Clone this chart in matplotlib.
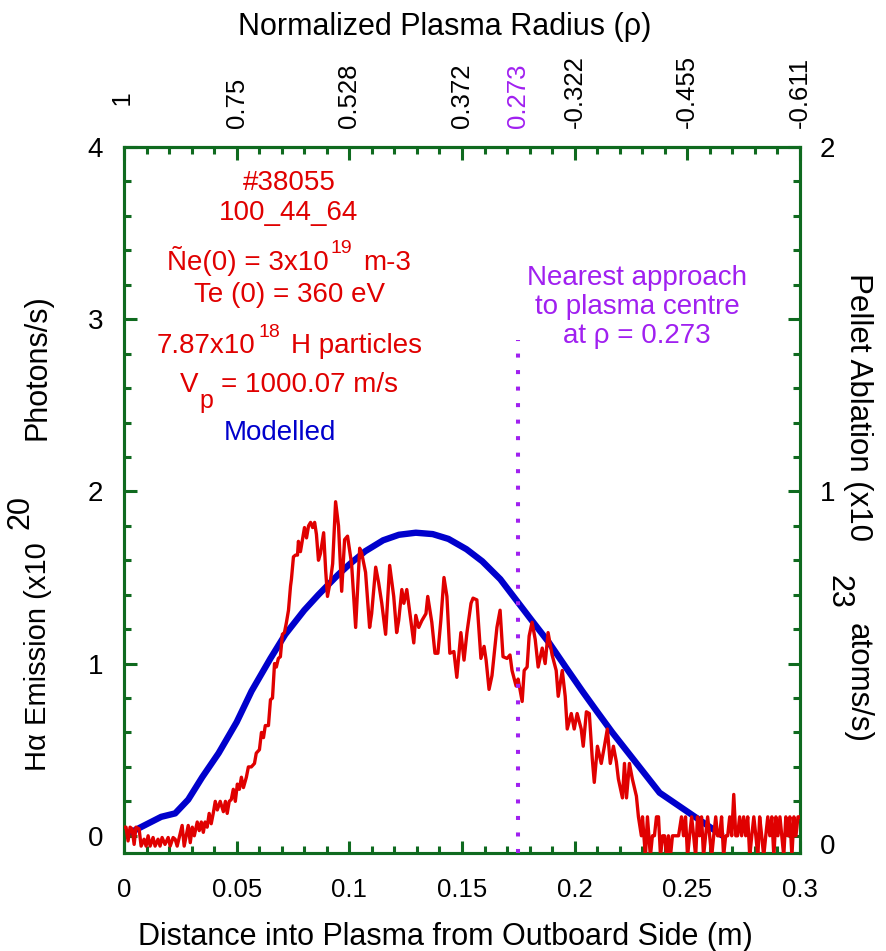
import matplotlib
matplotlib.use("Agg")
import matplotlib.pyplot as plt
from matplotlib.ticker import MultipleLocator
from matplotlib.transforms import ScaledTranslation

plt.rcParams['font.family'] = ['Liberation Sans', 'DejaVu Sans']

# ---------------- data ----------------
# measured H-alpha emission (x1e20 photons/s) vs distance into plasma (m)
red_x = [0.0000, 0.0009, 0.0018, 0.0027, 0.0036, 0.0045, 0.0053, 0.0067, 0.0076, 0.0089,
         0.0098, 0.0107, 0.0116, 0.0129, 0.0138, 0.0151, 0.0160, 0.0169, 0.0182, 0.0196,
         0.0205, 0.0218, 0.0227, 0.0236, 0.0245, 0.0258, 0.0267, 0.0276, 0.0285, 0.0294,
         0.0303, 0.0312, 0.0325, 0.0334, 0.0343, 0.0352, 0.0360, 0.0369, 0.0378, 0.0387,
         0.0396, 0.0405, 0.0414, 0.0427, 0.0441, 0.0450, 0.0458, 0.0467, 0.0476, 0.0485,
         0.0494, 0.0503, 0.0512, 0.0521, 0.0530, 0.0543, 0.0552, 0.0565, 0.0579, 0.0587,
         0.0601, 0.0610, 0.0619, 0.0627, 0.0641, 0.0650, 0.0659, 0.0668, 0.0676, 0.0685,
         0.0694, 0.0703, 0.0712, 0.0721, 0.0730, 0.0739, 0.0743, 0.0752, 0.0761, 0.0770,
         0.0774, 0.0783, 0.0792, 0.0801, 0.0810, 0.0819, 0.0828, 0.0837, 0.0846, 0.0854,
         0.0863, 0.0872, 0.0886, 0.0895, 0.0903, 0.0917, 0.0926, 0.0939, 0.0952, 0.0966,
         0.0979, 0.0992, 0.1010, 0.1028, 0.1046, 0.1055, 0.1072, 0.1090, 0.1099, 0.1117,
         0.1130, 0.1144, 0.1161, 0.1179, 0.1197, 0.1210, 0.1219, 0.1233, 0.1242, 0.1255,
         0.1273, 0.1286, 0.1295, 0.1308, 0.1322, 0.1340, 0.1348, 0.1366, 0.1380, 0.1393,
         0.1406, 0.1420, 0.1433, 0.1446, 0.1464, 0.1477, 0.1495, 0.1509, 0.1522, 0.1540,
         0.1549, 0.1566, 0.1584, 0.1598, 0.1607, 0.1620, 0.1633, 0.1647, 0.1655, 0.1669,
         0.1682, 0.1700, 0.1713, 0.1722, 0.1740, 0.1749, 0.1767, 0.1776, 0.1789, 0.1798,
         0.1811, 0.1825, 0.1838, 0.1856, 0.1869, 0.1882, 0.1900, 0.1918, 0.1927, 0.1945,
         0.1958, 0.1967, 0.1985, 0.1998, 0.2011, 0.2029, 0.2038, 0.2052, 0.2065, 0.2078,
         0.2087, 0.2101, 0.2118, 0.2132, 0.2145, 0.2158, 0.2172, 0.2185, 0.2194, 0.2212,
         0.2221, 0.2230, 0.2243, 0.2256, 0.2274, 0.2283, 0.2296, 0.2301, 0.2314, 0.2323,
         0.2336, 0.2345, 0.2354, 0.2363, 0.2372, 0.2381, 0.2390, 0.2399, 0.2408, 0.2416,
         0.2425, 0.2434, 0.2443, 0.2452, 0.2461, 0.2474, 0.2483, 0.2492, 0.2501, 0.2510,
         0.2519, 0.2528, 0.2537, 0.2545, 0.2554, 0.2563, 0.2572, 0.2581, 0.2590, 0.2599,
         0.2608, 0.2617, 0.2626, 0.2634, 0.2643, 0.2652, 0.2661, 0.2670, 0.2679, 0.2688,
         0.2697, 0.2706, 0.2715, 0.2723, 0.2732, 0.2741, 0.2750, 0.2759, 0.2768, 0.2777,
         0.2786, 0.2795, 0.2804, 0.2813, 0.2821, 0.2830, 0.2839, 0.2848, 0.2857, 0.2866,
         0.2875, 0.2884, 0.2893, 0.2902, 0.2911, 0.2919, 0.2928, 0.2937, 0.2946, 0.2955,
         0.2964, 0.2973, 0.2982, 0.2991, 0.3000]
red_y = [0.05, 0.05, -0.03, 0.05, 0.04, -0.05, 0.05, 0.04, -0.06, -0.02,
         -0.06, 0.00, -0.06, -0.01, -0.06, -0.02, -0.06, -0.01, -0.05, -0.01,
         -0.06, -0.01, -0.02, -0.06, -0.01, 0.06, -0.06, 0.00, 0.06, -0.04,
         0.05, 0.00, 0.08, 0.03, 0.08, 0.02, 0.08, 0.05, 0.13, 0.07,
         0.13, 0.20, 0.15, 0.20, 0.14, 0.20, 0.13, 0.20, 0.21, 0.27,
         0.20, 0.30, 0.27, 0.34, 0.28, 0.34, 0.40, 0.40, 0.42, 0.48,
         0.50, 0.60, 0.57, 0.64, 0.64, 0.79, 0.80, 1.00, 0.98, 1.03,
         1.04, 1.17, 1.18, 1.24, 1.31, 1.45, 1.49, 1.62, 1.63, 1.63,
         1.71, 1.65, 1.72, 1.79, 1.73, 1.80, 1.82, 1.79, 1.82, 1.75,
         1.60, 1.64, 1.76, 1.54, 1.39, 1.49, 1.58, 1.94, 1.80, 1.42,
         1.72, 1.74, 1.58, 1.21, 1.67, 1.64, 1.53, 1.21, 1.29, 1.56,
         1.47, 1.35, 1.17, 1.57, 1.39, 1.18, 1.25, 1.43, 1.35, 1.43,
         1.25, 1.12, 1.28, 1.21, 1.25, 1.29, 1.39, 1.24, 1.06, 1.06,
         1.25, 1.50, 1.39, 1.06, 1.07, 0.92, 1.18, 1.02, 1.18, 1.35,
         1.38, 1.37, 1.03, 1.10, 1.02, 0.85, 0.93, 1.11, 1.21, 1.31,
         1.04, 1.03, 1.05, 0.96, 0.87, 0.91, 0.78, 0.96, 0.98, 1.16,
         1.24, 1.14, 0.98, 1.09, 1.00, 1.18, 1.05, 0.96, 0.81, 0.96,
         0.81, 0.62, 0.71, 0.62, 0.71, 0.62, 0.52, 0.72, 0.71, 0.45,
         0.31, 0.52, 0.42, 0.52, 0.62, 0.42, 0.52, 0.43, 0.33, 0.22,
         0.42, 0.22, 0.42, 0.33, 0.23, 0.11, 0.00, 0.11, -0.12, 0.11,
         -0.12, 0.00, 0.00, 0.11, 0.11, -0.12, 0.00, 0.00, -0.12, 0.00,
         -0.12, 0.00, 0.00, 0.00, 0.00, 0.11, 0.00, 0.11, -0.12, 0.00,
         0.11, 0.00, -0.12, 0.11, 0.00, 0.11, -0.12, 0.00, 0.11, 0.00,
         -0.12, 0.00, 0.11, 0.00, 0.00, 0.11, -0.12, 0.00, 0.00, 0.11,
         0.00, 0.24, 0.00, 0.00, 0.11, 0.00, 0.11, 0.00, 0.11, -0.12,
         0.00, 0.11, 0.00, -0.12, 0.11, 0.00, -0.12, 0.00, 0.11, 0.00,
         0.11, -0.12, 0.11, 0.00, 0.11, 0.00, -0.12, 0.11, 0.00, 0.11,
         -0.12, 0.11, 0.00, 0.11, 0.11]

# modelled pellet ablation (x1e23 atoms/s)
model_x = [0.0, 0.0165, 0.0227, 0.0285, 0.0347, 0.0420, 0.0500, 0.0566, 0.0650, 0.0716,
           0.0800, 0.0863, 0.0950, 0.1000, 0.1070, 0.1150, 0.1220, 0.1295, 0.1370, 0.1440,
           0.1520, 0.1590, 0.1670, 0.1740, 0.1810, 0.1887, 0.1960, 0.2034, 0.2100, 0.2167,
           0.2377, 0.2657]
model_y = [0.0, 0.055, 0.065, 0.105, 0.17, 0.24, 0.33, 0.42, 0.515, 0.585,
           0.655, 0.70, 0.758, 0.788, 0.826, 0.858, 0.874, 0.88, 0.876, 0.862,
           0.832, 0.797, 0.745, 0.685, 0.625, 0.56, 0.49, 0.42, 0.36, 0.30,
           0.125, 0.0]

nearest_x = 0.175
nearest_top = 2.88

bottom_ticks = [0, 0.05, 0.1, 0.15, 0.2, 0.25, 0.3]
bottom_labels = ['0', '0.05', '0.1', '0.15', '0.2', '0.25', '0.3']
top_ticks = [0, 0.05, 0.1, 0.15, 0.175, 0.2, 0.25, 0.3]
top_labels = ['1', '0.75', '0.528', '0.372', '0.273', '-0.322', '-0.455', '-0.611']
left_ticks = [0, 1, 2, 3, 4]
right_ticks = [0, 0.5, 1, 1.5, 2]
right_labels = ['0', '', '1', '', '2']

# ---------------- style ----------------
W, H = 886, 951
GREEN = '#0f6a1f'
RED = '#e00000'
BLUE = '#0000cc'
PURPLE = '#a020f0'

fig = plt.figure(figsize=(W / 100, H / 100), dpi=100)
ax = fig.add_axes([124 / W, 1 - 853 / H, (800 - 124) / W, (853 - 147) / H])
axr = ax.twinx()


def fx(px):
    return px / W


def fy(py):
    return 1 - py / H


ax.set_xlim(0, 0.3)
ax.set_ylim(-0.1, 4.0)
axr.set_ylim(-0.05, 2.0)

ax.plot(red_x, red_y, color=RED, lw=2.4, zorder=3)
axr.plot(model_x, model_y, color=BLUE, lw=4.6, zorder=4, solid_capstyle='butt')
ax.plot([nearest_x, nearest_x], [-0.1, nearest_top], color=PURPLE, lw=2.9,
        linestyle=(0, (1, 3.1)), dash_capstyle='butt', zorder=5)
ax.set_zorder(axr.get_zorder() + 1)
ax.patch.set_visible(False)

for a in (ax, axr):
    for s in a.spines.values():
        s.set_color(GREEN)
        s.set_linewidth(2.2)

# ticks
ax.set_xticks(bottom_ticks)
ax.set_xticklabels(bottom_labels)
ax.xaxis.set_minor_locator(MultipleLocator(0.01))
ax.set_yticks(left_ticks)
ax.set_yticklabels([str(t) for t in left_ticks])
ax.yaxis.set_minor_locator(MultipleLocator(0.2))
axr.set_yticks(right_ticks)
axr.set_yticklabels(right_labels)
axr.yaxis.set_minor_locator(MultipleLocator(0.1))

ax.tick_params(axis='both', which='both', direction='in', color=GREEN, width=2.2)
ax.tick_params(axis='both', which='major', length=9)
ax.tick_params(axis='both', which='minor', length=5)
ax.tick_params(axis='x', labelsize=18.5, pad=18)
ax.tick_params(axis='y', labelsize=20, pad=15, right=False)
axr.tick_params(axis='y', which='both', direction='in', color=GREEN, width=2.2, labelsize=20, pad=14)
axr.tick_params(axis='y', which='major', length=9)
axr.tick_params(axis='y', which='minor', length=5)
lab0 = axr.get_yticklabels()[0]
lab0.set_transform(lab0.get_transform() + ScaledTranslation(0, -0.08, fig.dpi_scale_trans))

# top axis
axt = ax.secondary_xaxis('top')
axt.set_xticks(top_ticks)
axt.set_xticklabels(['   ' + top_labels[0]] + top_labels[1:], rotation=90)
axt.xaxis.set_minor_locator(MultipleLocator(0.01))
axt.tick_params(axis='x', which='both', direction='in', color=GREEN, width=2.2, labelsize=18.5, pad=14)
axt.tick_params(axis='x', which='major', length=9)
axt.tick_params(axis='x', which='minor', length=5)
axt.spines['top'].set_color(GREEN)
axt.spines['top'].set_linewidth(2.2)
for t, lab in zip(axt.xaxis.get_major_ticks(), top_labels):
    if lab == '0.273':
        t.tick1line.set_visible(False)
        t.tick2line.set_visible(False)
        t.label2.set_color(PURPLE)
        t.label1.set_color(PURPLE)

# axis titles
fig.text(fx(445), fy(945), 'Distance into Plasma from Outboard Side (m)',
         fontsize=22, ha='center', va='baseline')
fig.text(fx(445), fy(35), 'Normalized Plasma Radius (\u03c1)',
         fontsize=22, ha='center', va='baseline')

fig.text(fx(38), fy(657), 'H\u03b1 Emission (x10', fontsize=21, rotation=90, ha='center', va='center')
fig.text(fx(20), fy(512), '20', fontsize=22, rotation=90, ha='center', va='center')
fig.text(fx(38), fy(367), 'Photons/s)', fontsize=22, rotation=90, ha='center', va='center')

fig.text(fx(858), fy(407), 'Pellet Ablation (x10', fontsize=22.5, rotation=-90, ha='center', va='center')
fig.text(fx(838), fy(592), '23', fontsize=22, rotation=-90, ha='center', va='center')
fig.text(fx(858), fy(683), 'atoms/s)', fontsize=22.5, rotation=-90, ha='center', va='center')

# annotations built from pieces (text, fontsize, raise_px, gap_before_px)
renderer = fig.canvas.get_renderer()


def rich_line(cx, yb, pieces, color):
    arts = []
    total = 0.0
    for s, size, dy, gap in pieces:
        t = fig.text(0, 0, s, fontsize=size, color=color, ha='left', va='baseline')
        w = t.get_window_extent(renderer).width
        arts.append((t, dy, gap, w))
        total += gap + w
    x = cx - total / 2
    for t, dy, gap, w in arts:
        x += gap
        t.set_position((fx(x), fy(yb - dy)))
        x += w


red_lines = [
    ([('#38055', 20, 0, 0)], 190),
    ([('100_44_64', 20, 0, 0)], 220),
    ([('\u00d1e(0) = 3x10', 20, 0, 0), ('19', 14, 17, 2), ('m-3', 20, 0, 11)], 270),
    ([('Te (0) = 360 eV', 20, 0, 0)], 302),
    ([('7.87x10', 20, 0, 0), ('18', 14, 16, 3), ('H particles', 20, 0, 11)], 353),
    ([('V', 20, 0, 0), ('p', 18, -16, 1), ('= 1000.07 m/s', 20, 0, 7)], 392),
]
for pieces, yb in red_lines:
    rich_line(289, yb, pieces, RED)
fig.text(fx(280), fy(440), 'Modelled', color=BLUE, fontsize=20, ha='center', va='baseline')

for s, yb in [('Nearest approach', 285), ('to plasma centre', 314), ('at \u03c1 = 0.273', 343)]:
    fig.text(fx(637), fy(yb), s, color=PURPLE, fontsize=20, ha='center', va='baseline')

fig.savefig('out.png', dpi=100)
